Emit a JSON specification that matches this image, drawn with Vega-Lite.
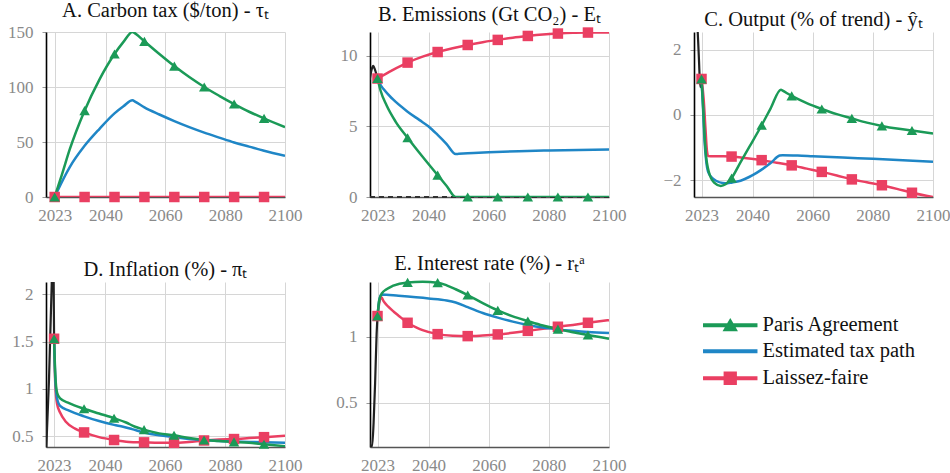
{
  "$schema": "https://vega.github.io/schema/vega-lite/v6.json",
  "background": "white",
  "padding": {"left": 7, "top": 0, "right": 5, "bottom": 5},
  "datasets": {
    "d": [
      {"panel":"A","series":"Laissez-faire","year":2023,"value":0},
      {"panel":"A","series":"Laissez-faire","year":2033,"value":0},
      {"panel":"A","series":"Laissez-faire","year":2043,"value":0},
      {"panel":"A","series":"Laissez-faire","year":2053,"value":0},
      {"panel":"A","series":"Laissez-faire","year":2063,"value":0},
      {"panel":"A","series":"Laissez-faire","year":2073,"value":0},
      {"panel":"A","series":"Laissez-faire","year":2083,"value":0},
      {"panel":"A","series":"Laissez-faire","year":2093,"value":0},
      {"panel":"A","series":"Laissez-faire","year":2100,"value":0},
      {"panel":"A","series":"Estimated tax path","year":2023,"value":0},
      {"panel":"A","series":"Estimated tax path","year":2025,"value":11.5},
      {"panel":"A","series":"Estimated tax path","year":2028,"value":27},
      {"panel":"A","series":"Estimated tax path","year":2033,"value":46.5},
      {"panel":"A","series":"Estimated tax path","year":2038,"value":62},
      {"panel":"A","series":"Estimated tax path","year":2043,"value":76},
      {"panel":"A","series":"Estimated tax path","year":2046,"value":82.5},
      {"panel":"A","series":"Estimated tax path","year":2049,"value":88},
      {"panel":"A","series":"Estimated tax path","year":2050,"value":86.5},
      {"panel":"A","series":"Estimated tax path","year":2053,"value":81.5},
      {"panel":"A","series":"Estimated tax path","year":2058,"value":75},
      {"panel":"A","series":"Estimated tax path","year":2063,"value":69},
      {"panel":"A","series":"Estimated tax path","year":2068,"value":63.5},
      {"panel":"A","series":"Estimated tax path","year":2073,"value":58.5},
      {"panel":"A","series":"Estimated tax path","year":2078,"value":54},
      {"panel":"A","series":"Estimated tax path","year":2083,"value":49.6},
      {"panel":"A","series":"Estimated tax path","year":2088,"value":45.8},
      {"panel":"A","series":"Estimated tax path","year":2093,"value":42},
      {"panel":"A","series":"Estimated tax path","year":2100,"value":37.4},
      {"panel":"A","series":"Paris Agreement","year":2023,"value":0},
      {"panel":"A","series":"Paris Agreement","year":2025.5,"value":21},
      {"panel":"A","series":"Paris Agreement","year":2028,"value":43},
      {"panel":"A","series":"Paris Agreement","year":2033,"value":78.5},
      {"panel":"A","series":"Paris Agreement","year":2038,"value":107},
      {"panel":"A","series":"Paris Agreement","year":2043,"value":130},
      {"panel":"A","series":"Paris Agreement","year":2046,"value":141},
      {"panel":"A","series":"Paris Agreement","year":2049,"value":150},
      {"panel":"A","series":"Paris Agreement","year":2050,"value":148.5},
      {"panel":"A","series":"Paris Agreement","year":2053,"value":141.5},
      {"panel":"A","series":"Paris Agreement","year":2058,"value":130},
      {"panel":"A","series":"Paris Agreement","year":2063,"value":119},
      {"panel":"A","series":"Paris Agreement","year":2068,"value":109},
      {"panel":"A","series":"Paris Agreement","year":2073,"value":100},
      {"panel":"A","series":"Paris Agreement","year":2078,"value":92},
      {"panel":"A","series":"Paris Agreement","year":2083,"value":84.5},
      {"panel":"A","series":"Paris Agreement","year":2088,"value":77.5},
      {"panel":"A","series":"Paris Agreement","year":2093,"value":71.5},
      {"panel":"A","series":"Paris Agreement","year":2100,"value":63.5},

      {"panel":"B","series":"Laissez-faire","year":2023,"value":8.4},
      {"panel":"B","series":"Laissez-faire","year":2028,"value":9.0},
      {"panel":"B","series":"Laissez-faire","year":2033,"value":9.53},
      {"panel":"B","series":"Laissez-faire","year":2038,"value":9.95},
      {"panel":"B","series":"Laissez-faire","year":2043,"value":10.28},
      {"panel":"B","series":"Laissez-faire","year":2048,"value":10.55},
      {"panel":"B","series":"Laissez-faire","year":2053,"value":10.78},
      {"panel":"B","series":"Laissez-faire","year":2058,"value":10.98},
      {"panel":"B","series":"Laissez-faire","year":2063,"value":11.14},
      {"panel":"B","series":"Laissez-faire","year":2068,"value":11.3},
      {"panel":"B","series":"Laissez-faire","year":2073,"value":11.42},
      {"panel":"B","series":"Laissez-faire","year":2078,"value":11.52},
      {"panel":"B","series":"Laissez-faire","year":2083,"value":11.59},
      {"panel":"B","series":"Laissez-faire","year":2088,"value":11.64},
      {"panel":"B","series":"Laissez-faire","year":2093,"value":11.66},
      {"panel":"B","series":"Laissez-faire","year":2100,"value":11.67},
      {"panel":"B","series":"Estimated tax path","year":2023,"value":8.4},
      {"panel":"B","series":"Estimated tax path","year":2024,"value":7.95},
      {"panel":"B","series":"Estimated tax path","year":2025,"value":7.65},
      {"panel":"B","series":"Estimated tax path","year":2028,"value":6.95},
      {"panel":"B","series":"Estimated tax path","year":2033,"value":6.05},
      {"panel":"B","series":"Estimated tax path","year":2037,"value":5.45},
      {"panel":"B","series":"Estimated tax path","year":2040,"value":5.0},
      {"panel":"B","series":"Estimated tax path","year":2043,"value":4.4},
      {"panel":"B","series":"Estimated tax path","year":2046,"value":3.75},
      {"panel":"B","series":"Estimated tax path","year":2049,"value":3.05},
      {"panel":"B","series":"Estimated tax path","year":2050,"value":3.06},
      {"panel":"B","series":"Estimated tax path","year":2055,"value":3.12},
      {"panel":"B","series":"Estimated tax path","year":2060,"value":3.17},
      {"panel":"B","series":"Estimated tax path","year":2070,"value":3.25},
      {"panel":"B","series":"Estimated tax path","year":2080,"value":3.3},
      {"panel":"B","series":"Estimated tax path","year":2090,"value":3.34},
      {"panel":"B","series":"Estimated tax path","year":2100,"value":3.36},
      {"panel":"B","series":"Paris Agreement","year":2023,"value":8.4},
      {"panel":"B","series":"Paris Agreement","year":2024,"value":7.55},
      {"panel":"B","series":"Paris Agreement","year":2026,"value":6.5},
      {"panel":"B","series":"Paris Agreement","year":2029,"value":5.35},
      {"panel":"B","series":"Paris Agreement","year":2033,"value":4.2},
      {"panel":"B","series":"Paris Agreement","year":2038,"value":2.85},
      {"panel":"B","series":"Paris Agreement","year":2043,"value":1.55},
      {"panel":"B","series":"Paris Agreement","year":2046,"value":0.78},
      {"panel":"B","series":"Paris Agreement","year":2049,"value":0},
      {"panel":"B","series":"Paris Agreement","year":2053,"value":0},
      {"panel":"B","series":"Paris Agreement","year":2063,"value":0},
      {"panel":"B","series":"Paris Agreement","year":2073,"value":0},
      {"panel":"B","series":"Paris Agreement","year":2083,"value":0},
      {"panel":"B","series":"Paris Agreement","year":2093,"value":0},
      {"panel":"B","series":"Paris Agreement","year":2100,"value":0},
      {"panel":"B","series":"History","year":2020.4,"value":8.3},
      {"panel":"B","series":"History","year":2021,"value":9.0},
      {"panel":"B","series":"History","year":2021.6,"value":9.3},
      {"panel":"B","series":"History","year":2022.2,"value":9.0},
      {"panel":"B","series":"History","year":2023,"value":8.4},

      {"panel":"C","series":"Laissez-faire","year":2023,"value":1.1},
      {"panel":"C","series":"Laissez-faire","year":2023.7,"value":0.5},
      {"panel":"C","series":"Laissez-faire","year":2024.3,"value":-0.4},
      {"panel":"C","series":"Laissez-faire","year":2024.8,"value":-1.1},
      {"panel":"C","series":"Laissez-faire","year":2025.2,"value":-1.26},
      {"panel":"C","series":"Laissez-faire","year":2028,"value":-1.27},
      {"panel":"C","series":"Laissez-faire","year":2033,"value":-1.28},
      {"panel":"C","series":"Laissez-faire","year":2038,"value":-1.33},
      {"panel":"C","series":"Laissez-faire","year":2043,"value":-1.39},
      {"panel":"C","series":"Laissez-faire","year":2048,"value":-1.47},
      {"panel":"C","series":"Laissez-faire","year":2053,"value":-1.55},
      {"panel":"C","series":"Laissez-faire","year":2058,"value":-1.65},
      {"panel":"C","series":"Laissez-faire","year":2063,"value":-1.75},
      {"panel":"C","series":"Laissez-faire","year":2068,"value":-1.86},
      {"panel":"C","series":"Laissez-faire","year":2073,"value":-1.98},
      {"panel":"C","series":"Laissez-faire","year":2078,"value":-2.07},
      {"panel":"C","series":"Laissez-faire","year":2083,"value":-2.16},
      {"panel":"C","series":"Laissez-faire","year":2088,"value":-2.27},
      {"panel":"C","series":"Laissez-faire","year":2093,"value":-2.39},
      {"panel":"C","series":"Laissez-faire","year":2100,"value":-2.52},
      {"panel":"C","series":"Estimated tax path","year":2023,"value":1.1},
      {"panel":"C","series":"Estimated tax path","year":2023.5,"value":0.2},
      {"panel":"C","series":"Estimated tax path","year":2024,"value":-0.8},
      {"panel":"C","series":"Estimated tax path","year":2024.6,"value":-1.45},
      {"panel":"C","series":"Estimated tax path","year":2025.2,"value":-1.75},
      {"panel":"C","series":"Estimated tax path","year":2026.5,"value":-1.93},
      {"panel":"C","series":"Estimated tax path","year":2028,"value":-2.03},
      {"panel":"C","series":"Estimated tax path","year":2030,"value":-2.09},
      {"panel":"C","series":"Estimated tax path","year":2031.7,"value":-2.1},
      {"panel":"C","series":"Estimated tax path","year":2033,"value":-2.08},
      {"panel":"C","series":"Estimated tax path","year":2036,"value":-2.02},
      {"panel":"C","series":"Estimated tax path","year":2040,"value":-1.85},
      {"panel":"C","series":"Estimated tax path","year":2043,"value":-1.68},
      {"panel":"C","series":"Estimated tax path","year":2046,"value":-1.48},
      {"panel":"C","series":"Estimated tax path","year":2049,"value":-1.25},
      {"panel":"C","series":"Estimated tax path","year":2050,"value":-1.24},
      {"panel":"C","series":"Estimated tax path","year":2055,"value":-1.25},
      {"panel":"C","series":"Estimated tax path","year":2060,"value":-1.27},
      {"panel":"C","series":"Estimated tax path","year":2070,"value":-1.31},
      {"panel":"C","series":"Estimated tax path","year":2080,"value":-1.35},
      {"panel":"C","series":"Estimated tax path","year":2090,"value":-1.39},
      {"panel":"C","series":"Estimated tax path","year":2100,"value":-1.44},
      {"panel":"C","series":"Paris Agreement","year":2023,"value":1.1},
      {"panel":"C","series":"Paris Agreement","year":2023.5,"value":0.3},
      {"panel":"C","series":"Paris Agreement","year":2024,"value":-0.6},
      {"panel":"C","series":"Paris Agreement","year":2024.4,"value":-1.16},
      {"panel":"C","series":"Paris Agreement","year":2025.5,"value":-1.77},
      {"panel":"C","series":"Paris Agreement","year":2027.2,"value":-2.08},
      {"panel":"C","series":"Paris Agreement","year":2029.4,"value":-2.18},
      {"panel":"C","series":"Paris Agreement","year":2031,"value":-2.13},
      {"panel":"C","series":"Paris Agreement","year":2033,"value":-1.94},
      {"panel":"C","series":"Paris Agreement","year":2036,"value":-1.45},
      {"panel":"C","series":"Paris Agreement","year":2039,"value":-0.97},
      {"panel":"C","series":"Paris Agreement","year":2043,"value":-0.32},
      {"panel":"C","series":"Paris Agreement","year":2046,"value":0.2},
      {"panel":"C","series":"Paris Agreement","year":2049.4,"value":0.77},
      {"panel":"C","series":"Paris Agreement","year":2050,"value":0.74},
      {"panel":"C","series":"Paris Agreement","year":2053,"value":0.58},
      {"panel":"C","series":"Paris Agreement","year":2058,"value":0.36},
      {"panel":"C","series":"Paris Agreement","year":2063,"value":0.18},
      {"panel":"C","series":"Paris Agreement","year":2068,"value":0.02},
      {"panel":"C","series":"Paris Agreement","year":2073,"value":-0.11},
      {"panel":"C","series":"Paris Agreement","year":2078,"value":-0.24},
      {"panel":"C","series":"Paris Agreement","year":2083,"value":-0.34},
      {"panel":"C","series":"Paris Agreement","year":2088,"value":-0.42},
      {"panel":"C","series":"Paris Agreement","year":2093,"value":-0.48},
      {"panel":"C","series":"Paris Agreement","year":2100,"value":-0.57},
      {"panel":"C","series":"History","year":2020.4,"value":4.0},
      {"panel":"C","series":"History","year":2021.5,"value":3.0},
      {"panel":"C","series":"History","year":2022.1,"value":1.8},
      {"panel":"C","series":"History","year":2022.6,"value":0.85},
      {"panel":"C","series":"History","year":2023,"value":1.1},

      {"panel":"D","series":"Laissez-faire","year":2023,"value":1.53},
      {"panel":"D","series":"Laissez-faire","year":2023.4,"value":1.05},
      {"panel":"D","series":"Laissez-faire","year":2024,"value":0.84},
      {"panel":"D","series":"Laissez-faire","year":2025,"value":0.75},
      {"panel":"D","series":"Laissez-faire","year":2027,"value":0.65},
      {"panel":"D","series":"Laissez-faire","year":2030,"value":0.58},
      {"panel":"D","series":"Laissez-faire","year":2033,"value":0.54},
      {"panel":"D","series":"Laissez-faire","year":2038,"value":0.49},
      {"panel":"D","series":"Laissez-faire","year":2043,"value":0.46},
      {"panel":"D","series":"Laissez-faire","year":2048,"value":0.44},
      {"panel":"D","series":"Laissez-faire","year":2053,"value":0.435},
      {"panel":"D","series":"Laissez-faire","year":2058,"value":0.43},
      {"panel":"D","series":"Laissez-faire","year":2063,"value":0.43},
      {"panel":"D","series":"Laissez-faire","year":2068,"value":0.44},
      {"panel":"D","series":"Laissez-faire","year":2073,"value":0.455},
      {"panel":"D","series":"Laissez-faire","year":2078,"value":0.465},
      {"panel":"D","series":"Laissez-faire","year":2083,"value":0.47},
      {"panel":"D","series":"Laissez-faire","year":2088,"value":0.48},
      {"panel":"D","series":"Laissez-faire","year":2093,"value":0.49},
      {"panel":"D","series":"Laissez-faire","year":2100,"value":0.505},
      {"panel":"D","series":"Estimated tax path","year":2023,"value":1.53},
      {"panel":"D","series":"Estimated tax path","year":2023.4,"value":1.1},
      {"panel":"D","series":"Estimated tax path","year":2024,"value":0.9},
      {"panel":"D","series":"Estimated tax path","year":2025,"value":0.82},
      {"panel":"D","series":"Estimated tax path","year":2028,"value":0.77},
      {"panel":"D","series":"Estimated tax path","year":2033,"value":0.71},
      {"panel":"D","series":"Estimated tax path","year":2038,"value":0.66},
      {"panel":"D","series":"Estimated tax path","year":2043,"value":0.62},
      {"panel":"D","series":"Estimated tax path","year":2046,"value":0.6},
      {"panel":"D","series":"Estimated tax path","year":2049,"value":0.575},
      {"panel":"D","series":"Estimated tax path","year":2053,"value":0.54},
      {"panel":"D","series":"Estimated tax path","year":2058,"value":0.51},
      {"panel":"D","series":"Estimated tax path","year":2063,"value":0.49},
      {"panel":"D","series":"Estimated tax path","year":2068,"value":0.47},
      {"panel":"D","series":"Estimated tax path","year":2073,"value":0.46},
      {"panel":"D","series":"Estimated tax path","year":2078,"value":0.45},
      {"panel":"D","series":"Estimated tax path","year":2083,"value":0.445},
      {"panel":"D","series":"Estimated tax path","year":2088,"value":0.44},
      {"panel":"D","series":"Estimated tax path","year":2093,"value":0.435},
      {"panel":"D","series":"Estimated tax path","year":2100,"value":0.43},
      {"panel":"D","series":"Paris Agreement","year":2023,"value":1.53},
      {"panel":"D","series":"Paris Agreement","year":2023.4,"value":1.15},
      {"panel":"D","series":"Paris Agreement","year":2024,"value":0.96},
      {"panel":"D","series":"Paris Agreement","year":2025,"value":0.9},
      {"panel":"D","series":"Paris Agreement","year":2028,"value":0.85},
      {"panel":"D","series":"Paris Agreement","year":2033,"value":0.79},
      {"panel":"D","series":"Paris Agreement","year":2038,"value":0.74},
      {"panel":"D","series":"Paris Agreement","year":2043,"value":0.69},
      {"panel":"D","series":"Paris Agreement","year":2047,"value":0.645},
      {"panel":"D","series":"Paris Agreement","year":2050,"value":0.6},
      {"panel":"D","series":"Paris Agreement","year":2053,"value":0.57},
      {"panel":"D","series":"Paris Agreement","year":2058,"value":0.53},
      {"panel":"D","series":"Paris Agreement","year":2063,"value":0.51},
      {"panel":"D","series":"Paris Agreement","year":2068,"value":0.48},
      {"panel":"D","series":"Paris Agreement","year":2073,"value":0.46},
      {"panel":"D","series":"Paris Agreement","year":2078,"value":0.45},
      {"panel":"D","series":"Paris Agreement","year":2083,"value":0.44},
      {"panel":"D","series":"Paris Agreement","year":2088,"value":0.43},
      {"panel":"D","series":"Paris Agreement","year":2093,"value":0.415},
      {"panel":"D","series":"Paris Agreement","year":2100,"value":0.395},
      {"panel":"D","series":"History","year":2020.3,"value":0.3},
      {"panel":"D","series":"History","year":2021.3,"value":1.1},
      {"panel":"D","series":"History","year":2022.2,"value":2.1},
      {"panel":"D","series":"History","year":2022.6,"value":2.6},
      {"panel":"D","series":"History","year":2022.8,"value":2.3},
      {"panel":"D","series":"History","year":2023,"value":1.53},

      {"panel":"E","series":"Laissez-faire","year":2023,"value":1.157},
      {"panel":"E","series":"Laissez-faire","year":2023.7,"value":1.27},
      {"panel":"E","series":"Laissez-faire","year":2024.3,"value":1.3},
      {"panel":"E","series":"Laissez-faire","year":2025,"value":1.27},
      {"panel":"E","series":"Laissez-faire","year":2026.5,"value":1.23},
      {"panel":"E","series":"Laissez-faire","year":2028.4,"value":1.19},
      {"panel":"E","series":"Laissez-faire","year":2030,"value":1.16},
      {"panel":"E","series":"Laissez-faire","year":2033,"value":1.106},
      {"panel":"E","series":"Laissez-faire","year":2036,"value":1.07},
      {"panel":"E","series":"Laissez-faire","year":2038,"value":1.05},
      {"panel":"E","series":"Laissez-faire","year":2043,"value":1.02},
      {"panel":"E","series":"Laissez-faire","year":2048,"value":1.008},
      {"panel":"E","series":"Laissez-faire","year":2053,"value":1.005},
      {"panel":"E","series":"Laissez-faire","year":2058,"value":1.01},
      {"panel":"E","series":"Laissez-faire","year":2063,"value":1.018},
      {"panel":"E","series":"Laissez-faire","year":2068,"value":1.03},
      {"panel":"E","series":"Laissez-faire","year":2073,"value":1.045},
      {"panel":"E","series":"Laissez-faire","year":2078,"value":1.06},
      {"panel":"E","series":"Laissez-faire","year":2083,"value":1.076},
      {"panel":"E","series":"Laissez-faire","year":2088,"value":1.09},
      {"panel":"E","series":"Laissez-faire","year":2093,"value":1.106},
      {"panel":"E","series":"Laissez-faire","year":2100,"value":1.126},
      {"panel":"E","series":"Estimated tax path","year":2023,"value":1.157},
      {"panel":"E","series":"Estimated tax path","year":2023.6,"value":1.28},
      {"panel":"E","series":"Estimated tax path","year":2024.3,"value":1.32},
      {"panel":"E","series":"Estimated tax path","year":2030,"value":1.31},
      {"panel":"E","series":"Estimated tax path","year":2040,"value":1.29},
      {"panel":"E","series":"Estimated tax path","year":2046,"value":1.275},
      {"panel":"E","series":"Estimated tax path","year":2049,"value":1.26},
      {"panel":"E","series":"Estimated tax path","year":2053,"value":1.225},
      {"panel":"E","series":"Estimated tax path","year":2058,"value":1.18},
      {"panel":"E","series":"Estimated tax path","year":2063,"value":1.145},
      {"panel":"E","series":"Estimated tax path","year":2068,"value":1.115},
      {"panel":"E","series":"Estimated tax path","year":2073,"value":1.09},
      {"panel":"E","series":"Estimated tax path","year":2078,"value":1.07},
      {"panel":"E","series":"Estimated tax path","year":2083,"value":1.056},
      {"panel":"E","series":"Estimated tax path","year":2088,"value":1.045},
      {"panel":"E","series":"Estimated tax path","year":2093,"value":1.036},
      {"panel":"E","series":"Estimated tax path","year":2100,"value":1.028},
      {"panel":"E","series":"Paris Agreement","year":2023,"value":1.157},
      {"panel":"E","series":"Paris Agreement","year":2023.6,"value":1.28},
      {"panel":"E","series":"Paris Agreement","year":2024.5,"value":1.33},
      {"panel":"E","series":"Paris Agreement","year":2026,"value":1.36},
      {"panel":"E","series":"Paris Agreement","year":2028,"value":1.385},
      {"panel":"E","series":"Paris Agreement","year":2033,"value":1.412},
      {"panel":"E","series":"Paris Agreement","year":2038,"value":1.416},
      {"panel":"E","series":"Paris Agreement","year":2043,"value":1.41},
      {"panel":"E","series":"Paris Agreement","year":2046,"value":1.39},
      {"panel":"E","series":"Paris Agreement","year":2049,"value":1.36},
      {"panel":"E","series":"Paris Agreement","year":2053,"value":1.316},
      {"panel":"E","series":"Paris Agreement","year":2058,"value":1.255},
      {"panel":"E","series":"Paris Agreement","year":2063,"value":1.2},
      {"panel":"E","series":"Paris Agreement","year":2068,"value":1.155},
      {"panel":"E","series":"Paris Agreement","year":2073,"value":1.119},
      {"panel":"E","series":"Paris Agreement","year":2078,"value":1.085},
      {"panel":"E","series":"Paris Agreement","year":2083,"value":1.058},
      {"panel":"E","series":"Paris Agreement","year":2088,"value":1.035},
      {"panel":"E","series":"Paris Agreement","year":2093,"value":1.013},
      {"panel":"E","series":"Paris Agreement","year":2100,"value":0.985},
      {"panel":"E","series":"History","year":2020.3,"value":0.22},
      {"panel":"E","series":"History","year":2020.7,"value":0.17},
      {"panel":"E","series":"History","year":2021.2,"value":0.17},
      {"panel":"E","series":"History","year":2021.7,"value":0.35},
      {"panel":"E","series":"History","year":2022.2,"value":0.65},
      {"panel":"E","series":"History","year":2022.7,"value":1.02},
      {"panel":"E","series":"History","year":2023,"value":1.157}
    ]
  },
  "data": {"name": "d"},
  "columns": 3,
  "spacing": {"row": 85, "column": 85},
  "bounds": "flush",
  "resolve": {"scale": {"color": "shared", "shape": "shared"}},
  "concat": [
    {
      "title": "A. Carbon tax ($/ton) - τₜ",
      "width": 239, "height": 165,
      "transform": [{"filter": "datum.panel === 'A'"}],
      "encoding": {
        "x": {"field": "year", "type": "quantitative", "scale": {"domain": [2020.1, 2100], "nice": false, "zero": false}, "axis": {"values": [2023, 2040, 2060, 2080, 2100], "format": "d"}},
        "y": {"field": "value", "type": "quantitative", "scale": {"domain": [0, 150], "nice": false, "zero": false}, "axis": {"values": [0, 50, 100, 150]}}
      },
      "layer": [
        {"transform": [{"filter": "datum.series !== 'History'"}], "mark": {"type": "line", "clip": true},
         "encoding": {"color": {"field": "series", "type": "nominal", "scale": {"domain": ["Paris Agreement", "Estimated tax path", "Laissez-faire"], "range": ["#1b9a57", "#1f86c6", "#ea3f62"]}}}},
        {"transform": [{"filter": "datum.series === 'Laissez-faire'"}, {"filter": {"field": "year", "oneOf": [2023, 2033, 2043, 2053, 2063, 2073, 2083, 2093]}}],
         "mark": {"type": "point", "shape": "square", "filled": true, "opacity": 1, "size": 110},
         "encoding": {"color": {"field": "series", "type": "nominal"}}},
        {"transform": [{"filter": "datum.series === 'Paris Agreement'"}, {"filter": {"field": "year", "oneOf": [2023, 2033, 2043, 2053, 2063, 2073, 2083, 2093]}}],
         "mark": {"type": "point", "shape": "triangle-up", "filled": true, "opacity": 1, "size": 110},
         "encoding": {"color": {"field": "series", "type": "nominal"}}},
        {"transform": [{"filter": "datum.series !== 'History'"}, {"filter": "datum.year === 2023"}],
         "mark": {"type": "point", "filled": true, "opacity": 0, "size": 144},
         "encoding": {
           "color": {"field": "series", "type": "nominal"},
           "shape": {"field": "series", "type": "nominal",
             "scale": {"domain": ["Paris Agreement", "Estimated tax path", "Laissez-faire"],
                       "range": ["M-4.33,-0.12H4.33V0.12H-4.33Z M0,-0.8L0.92,0.78L-0.92,0.78Z", "M-4.33,-0.12H4.33V0.12H-4.33Z", "M-4.33,-0.12H4.33V0.12H-4.33Z M-0.9,-0.9H0.9V0.9H-0.9Z"]},
             "legend": {"title": null, "orient": "none", "legendX": 674, "legendY": 283, "padding": 0, "symbolSize": 144, "symbolStrokeWidth": 0, "symbolOpacity": 1, "labelFont": "Liberation Serif", "labelFontSize": 20.5, "labelColor": "#111", "labelOffset": 22, "rowPadding": 5}}
         }}
      ]
    },
    {
      "title": "B. Emissions (Gt CO₂) - Eₜ",
      "width": 239, "height": 165,
      "transform": [{"filter": "datum.panel === 'B'"}],
      "encoding": {
        "x": {"field": "year", "type": "quantitative", "scale": {"domain": [2020.5, 2100], "nice": false, "zero": false}, "axis": {"values": [2023, 2040, 2060, 2080, 2100], "format": "d"}},
        "y": {"field": "value", "type": "quantitative", "scale": {"domain": [0, 11.7], "nice": false, "zero": false}, "axis": {"values": [0, 5, 10]}}
      },
      "layer": [
        {"mark": {"type": "rule", "color": "#333", "strokeWidth": 1.3, "strokeDash": [5, 4]}, "encoding": {"x": {"datum": 2020.5}, "x2": {"datum": 2100}, "y": {"datum": 0}}},
        {"transform": [{"filter": "datum.series === 'History'"}], "mark": {"type": "line", "color": "#222", "strokeWidth": 2.2, "clip": true}},
        {"transform": [{"filter": "datum.series !== 'History'"}], "mark": {"type": "line", "clip": true},
         "encoding": {"color": {"field": "series", "type": "nominal"}}},
        {"transform": [{"filter": "datum.series === 'Laissez-faire'"}, {"filter": {"field": "year", "oneOf": [2023, 2033, 2043, 2053, 2063, 2073, 2083, 2093]}}],
         "mark": {"type": "point", "shape": "square", "filled": true, "opacity": 1, "size": 110},
         "encoding": {"color": {"field": "series", "type": "nominal"}}},
        {"transform": [{"filter": "datum.series === 'Paris Agreement'"}, {"filter": {"field": "year", "oneOf": [2023, 2033, 2043, 2053, 2063, 2073, 2083, 2093]}}],
         "mark": {"type": "point", "shape": "triangle-up", "filled": true, "opacity": 1, "size": 110},
         "encoding": {"color": {"field": "series", "type": "nominal"}}}
      ]
    },
    {
      "title": "C. Output (% of trend) - ŷₜ",
      "width": 239, "height": 165,
      "transform": [{"filter": "datum.panel === 'C'"}],
      "encoding": {
        "x": {"field": "year", "type": "quantitative", "scale": {"domain": [2020.5, 2100], "nice": false, "zero": false}, "axis": {"values": [2023, 2040, 2060, 2080, 2100], "format": "d"}},
        "y": {"field": "value", "type": "quantitative", "scale": {"domain": [-2.52, 2.54], "nice": false, "zero": false}, "axis": {"values": [-2, 0, 2]}}
      },
      "layer": [
        {"transform": [{"filter": "datum.series === 'History'"}], "mark": {"type": "line", "color": "#222", "strokeWidth": 2.2, "clip": true}},
        {"transform": [{"filter": "datum.series !== 'History'"}], "mark": {"type": "line", "clip": true},
         "encoding": {"color": {"field": "series", "type": "nominal"}}},
        {"transform": [{"filter": "datum.series === 'Laissez-faire'"}, {"filter": {"field": "year", "oneOf": [2023, 2033, 2043, 2053, 2063, 2073, 2083, 2093]}}],
         "mark": {"type": "point", "shape": "square", "filled": true, "opacity": 1, "size": 110},
         "encoding": {"color": {"field": "series", "type": "nominal"}}},
        {"transform": [{"filter": "datum.series === 'Paris Agreement'"}, {"filter": {"field": "year", "oneOf": [2023, 2033, 2043, 2053, 2063, 2073, 2083, 2093]}}],
         "mark": {"type": "point", "shape": "triangle-up", "filled": true, "opacity": 1, "size": 110},
         "encoding": {"color": {"field": "series", "type": "nominal"}}}
      ]
    },
    {
      "title": "D. Inflation (%) - πₜ",
      "width": 239, "height": 165,
      "transform": [{"filter": "datum.panel === 'D'"}],
      "encoding": {
        "x": {"field": "year", "type": "quantitative", "scale": {"domain": [2020.3, 2100], "nice": false, "zero": false}, "axis": {"values": [2023, 2040, 2060, 2080, 2100], "format": "d"}},
        "y": {"field": "value", "type": "quantitative", "scale": {"domain": [0.386, 2.13], "nice": false, "zero": false}, "axis": {"values": [0.5, 1, 1.5, 2], "format": "~g"}}
      },
      "layer": [
        {"transform": [{"filter": "datum.series === 'History'"}], "mark": {"type": "line", "color": "#222", "strokeWidth": 2.2, "clip": true}},
        {"transform": [{"filter": "datum.series !== 'History'"}], "mark": {"type": "line", "clip": true},
         "encoding": {"color": {"field": "series", "type": "nominal"}}},
        {"transform": [{"filter": "datum.series === 'Laissez-faire'"}, {"filter": {"field": "year", "oneOf": [2023, 2033, 2043, 2053, 2063, 2073, 2083, 2093]}}],
         "mark": {"type": "point", "shape": "square", "filled": true, "opacity": 1, "size": 110},
         "encoding": {"color": {"field": "series", "type": "nominal"}}},
        {"transform": [{"filter": "datum.series === 'Paris Agreement'"}, {"filter": {"field": "year", "oneOf": [2023, 2033, 2043, 2053, 2063, 2073, 2083, 2093]}}],
         "mark": {"type": "point", "shape": "triangle-up", "filled": true, "opacity": 1, "size": 110},
         "encoding": {"color": {"field": "series", "type": "nominal"}}}
      ]
    },
    {
      "title": "E. Interest rate (%) - rₜᵃ",
      "width": 239, "height": 165,
      "transform": [{"filter": "datum.panel === 'E'"}],
      "encoding": {
        "x": {"field": "year", "type": "quantitative", "scale": {"domain": [2020.5, 2100], "nice": false, "zero": false}, "axis": {"values": [2023, 2040, 2060, 2080, 2100], "format": "d"}},
        "y": {"field": "value", "type": "quantitative", "scale": {"domain": [0.165, 1.415], "nice": false, "zero": false}, "axis": {"values": [0.5, 1], "format": "~g"}}
      },
      "layer": [
        {"transform": [{"filter": "datum.series === 'History'"}], "mark": {"type": "line", "color": "#222", "strokeWidth": 2.2, "clip": true}},
        {"transform": [{"filter": "datum.series !== 'History'"}], "mark": {"type": "line"},
         "encoding": {"color": {"field": "series", "type": "nominal"}}},
        {"transform": [{"filter": "datum.series === 'Laissez-faire'"}, {"filter": {"field": "year", "oneOf": [2023, 2033, 2043, 2053, 2063, 2073, 2083, 2093]}}],
         "mark": {"type": "point", "shape": "square", "filled": true, "opacity": 1, "size": 110},
         "encoding": {"color": {"field": "series", "type": "nominal"}}},
        {"transform": [{"filter": "datum.series === 'Paris Agreement'"}, {"filter": {"field": "year", "oneOf": [2023, 2033, 2043, 2053, 2063, 2073, 2083, 2093]}}],
         "mark": {"type": "point", "shape": "triangle-up", "filled": true, "opacity": 1, "size": 110},
         "encoding": {"color": {"field": "series", "type": "nominal"}}}
      ]
    }
  ],
  "config": {
    "view": {"stroke": null},
    "font": "Liberation Serif",
    "title": {"font": "Liberation Serif", "fontSize": 20.5, "fontWeight": "normal", "color": "#111", "offset": 2, "anchor": "middle"},
    "axis": {"title": null, "labelFont": "Liberation Serif", "labelFontSize": 17, "labelColor": "#8a8a8a", "gridColor": "#d6d6d6", "gridWidth": 1, "labelOverlap": false},
    "axisX": {"domainColor": "#555", "domainWidth": 1.5, "ticks": false, "labelPadding": 10, "labelFlush": false, "labelBound": false},
    "axisY": {"domainColor": "#000", "domainWidth": 1.6, "tickColor": "#999", "tickSize": 4, "labelPadding": 9},
    "line": {"strokeWidth": 2.5, "interpolate": "monotone"}
  }
}
